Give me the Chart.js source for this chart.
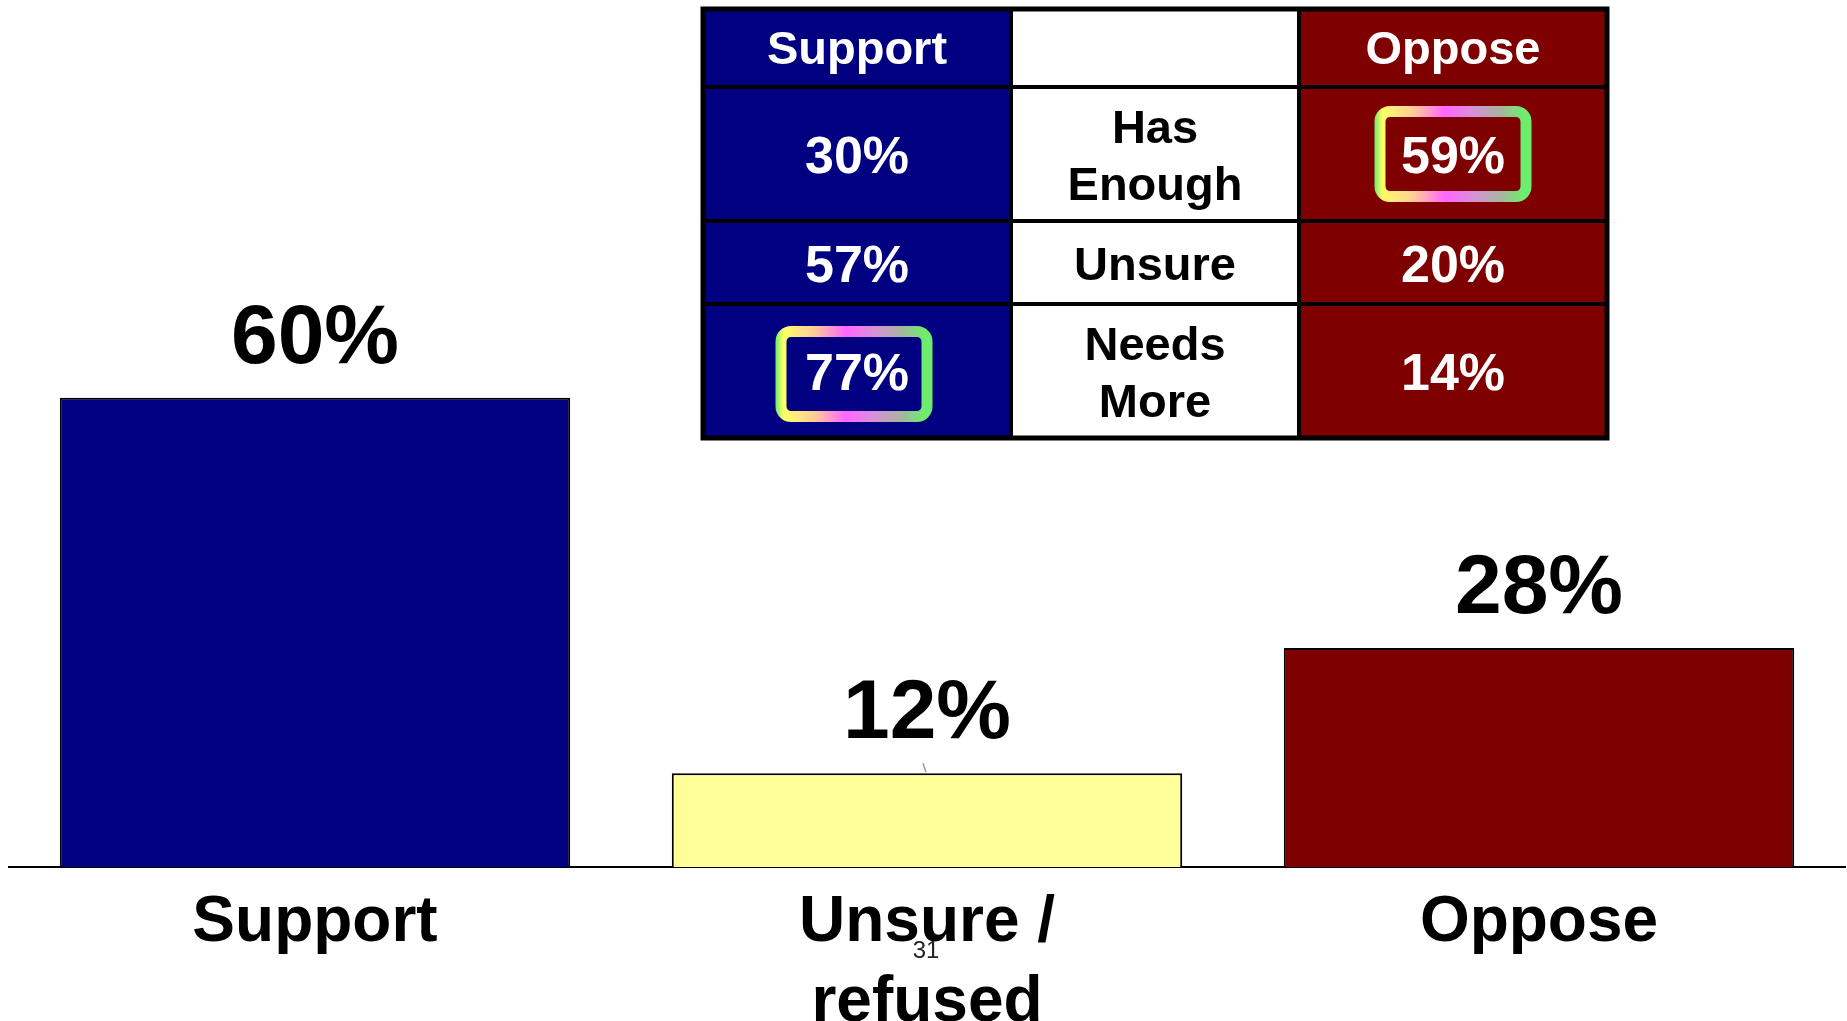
<!DOCTYPE html>
<html>
<head>
<meta charset="utf-8">
<script src="https://cdn.jsdelivr.net/npm/chart.js@4.4.0/dist/chart.umd.min.js"></script>
<style>
  html, body { margin: 0; padding: 0; background: #ffffff; overflow: hidden; }
  #wrap { width: 1847px; height: 1021px; position: relative; }
</style>
</head>
<body>
<div id="wrap"><canvas id="c" width="1847" height="1021"></canvas></div>
<script>
// Overall opinion
const categories = ['Support', ['Unsure /', 'refused'], 'Oppose'];
const shares = [60, 12, 28];
const barColors = ['#000080', '#FFFF99', '#7F0000'];
const pageNumber = '31';

// Breakdown by view of current amount
const tableHeaders = ['Support', '', 'Oppose'];
const tableRowLabels = [['Has', 'Enough'], ['Unsure'], ['Needs', 'More']];
const supportByRow = [30, 57, 77];
const opposeByRow = [59, 20, 14];

const FONT = '"Liberation Sans", Arial, Helvetica, sans-serif';

function roundRectPath(ctx, x, y, w, h, r) {
  ctx.beginPath();
  ctx.moveTo(x + r, y);
  ctx.lineTo(x + w - r, y);
  ctx.arcTo(x + w, y, x + w, y + r, r);
  ctx.lineTo(x + w, y + h - r);
  ctx.arcTo(x + w, y + h, x + w - r, y + h, r);
  ctx.lineTo(x + r, y + h);
  ctx.arcTo(x, y + h, x, y + h - r, r);
  ctx.lineTo(x, y + r);
  ctx.arcTo(x, y, x + r, y, r);
  ctx.closePath();
}

// Rainbow rounded frame around the strongest figure in each column
function drawHighlight(ctx, cx, cy) {
  const w = 146, h = 85, lw = 11;
  const x = cx - w / 2, y = cy - h / 2;
  const g = ctx.createLinearGradient(x - lw / 2, 0, x + w + lw / 2, 0);
  g.addColorStop(0.00, '#6CEE6C');
  g.addColorStop(0.05, '#FFFF66');
  g.addColorStop(0.25, '#FFCC99');
  g.addColorStop(0.45, '#FF66FF');
  g.addColorStop(0.62, '#D98FD9');
  g.addColorStop(0.80, '#A8B4A0');
  g.addColorStop(0.95, '#6CEE6C');
  g.addColorStop(1.00, '#6CEE6C');
  ctx.save();
  ctx.lineWidth = lw;
  ctx.strokeStyle = g;
  roundRectPath(ctx, x, y, w, h, 10);
  ctx.stroke();
  ctx.restore();
}

const annotations = {
  id: 'annotations',
  afterDatasetsDraw(chart) {
    const ctx = chart.ctx;
    const meta = chart.getDatasetMeta(0);
    ctx.save();
    // value labels above bars
    ctx.fillStyle = '#000000';
    ctx.font = 'bold 84px ' + FONT;
    ctx.textAlign = 'center';
    ctx.textBaseline = 'alphabetic';
    meta.data.forEach((bar, i) => {
      ctx.fillText(shares[i] + '%', bar.x, bar.y - 35);
    });
    // small stray stroke above the middle bar
    const mid = meta.data[1];
    ctx.strokeStyle = '#9a9a9a';
    ctx.lineWidth = 1.5;
    ctx.beginPath();
    ctx.moveTo(mid.x - 4, mid.y - 10);
    ctx.lineTo(mid.x - 1, mid.y - 1);
    ctx.stroke();
    ctx.restore();
  },
  afterDraw(chart) {
    const ctx = chart.ctx;
    ctx.save();

    // page number
    ctx.fillStyle = '#222222';
    ctx.font = '24px ' + FONT;
    ctx.textAlign = 'center';
    ctx.textBaseline = 'middle';
    ctx.fillText(pageNumber, 926, 951);

    // breakdown table
    const left = 703, top = 9;
    const colW = [308, 288, 308];
    const rowH = [78, 134, 83, 134];
    const colX = [left];
    colW.forEach(w => colX.push(colX[colX.length - 1] + w));
    const rowY = [top];
    rowH.forEach(h => rowY.push(rowY[rowY.length - 1] + h));
    const colFill = ['#000080', '#FFFFFF', '#7F0000'];

    for (let c = 0; c < 3; c++) {
      ctx.fillStyle = colFill[c];
      ctx.fillRect(colX[c], rowY[0], colW[c], rowY[4] - rowY[0]);
    }

    const cellCx = c => (colX[c] + colX[c + 1]) / 2;
    const cellCy = r => (rowY[r] + rowY[r + 1]) / 2;

    // highlight frames at each column's largest value
    const sMax = supportByRow.indexOf(Math.max(...supportByRow));
    const oMax = opposeByRow.indexOf(Math.max(...opposeByRow));
    drawHighlight(ctx, cellCx(0) - 3, cellCy(sMax + 1) + 3);
    drawHighlight(ctx, cellCx(2), cellCy(oMax + 1) + 0);

    // grid lines
    ctx.strokeStyle = '#000000';
    ctx.lineWidth = 4;
    for (let i = 1; i < rowY.length - 1; i++) {
      ctx.beginPath();
      ctx.moveTo(colX[0], rowY[i]);
      ctx.lineTo(colX[3], rowY[i]);
      ctx.stroke();
    }
    for (let i = 1; i < colX.length - 1; i++) {
      ctx.beginPath();
      ctx.moveTo(colX[i], rowY[0]);
      ctx.lineTo(colX[i], rowY[4]);
      ctx.stroke();
    }
    ctx.lineWidth = 5;
    ctx.strokeRect(colX[0], rowY[0], colX[3] - colX[0], rowY[4] - rowY[0]);

    // header text
    ctx.textAlign = 'center';
    ctx.textBaseline = 'middle';
    ctx.fillStyle = '#FFFFFF';
    ctx.font = 'bold 47px ' + FONT;
    tableHeaders.forEach((t, c) => {
      if (t) ctx.fillText(t, cellCx(c), cellCy(0) + 3);
    });

    // body text
    for (let r = 0; r < tableRowLabels.length; r++) {
      const cy = cellCy(r + 1) + 4;
      ctx.fillStyle = '#FFFFFF';
      ctx.font = 'bold 52px ' + FONT;
      ctx.fillText(supportByRow[r] + '%', cellCx(0), cy + 1);
      ctx.fillText(opposeByRow[r] + '%', cellCx(2), cy + 1);
      ctx.fillStyle = '#000000';
      ctx.font = 'bold 47px ' + FONT;
      const lines = tableRowLabels[r];
      const lh = 57;
      lines.forEach((ln, k) => {
        ctx.fillText(ln, cellCx(1), cy + (k - (lines.length - 1) / 2) * lh + 1);
      });
    }
    ctx.restore();
  }
};

new Chart(document.getElementById('c'), {
  type: 'bar',
  data: {
    labels: categories,
    datasets: [{
      data: shares,
      backgroundColor: barColors,
      borderColor: '#000000',
      borderWidth: 2,
      categoryPercentage: 1.0,
      barPercentage: 0.834
    }]
  },
  options: {
    responsive: false,
    animation: false,
    devicePixelRatio: 1,
    layout: { padding: { top: 85, left: 9, right: 2, bottom: 0 } },
    plugins: { legend: { display: false }, tooltip: { enabled: false } },
    scales: {
      x: {
        grid: { display: false, drawTicks: false },
        border: { display: true, color: '#000000', width: 2 },
        ticks: {
          color: '#000000',
          padding: 17,
          maxRotation: 0,
          autoSkip: false,
          font: { family: FONT, weight: 'bold', size: 64, lineHeight: 1.24 }
        },
        afterFit(scale) { scale.height = 154; }
      },
      y: { display: false, min: 0, max: 100 }
    }
  },
  plugins: [annotations]
});
</script>
</body>
</html>
